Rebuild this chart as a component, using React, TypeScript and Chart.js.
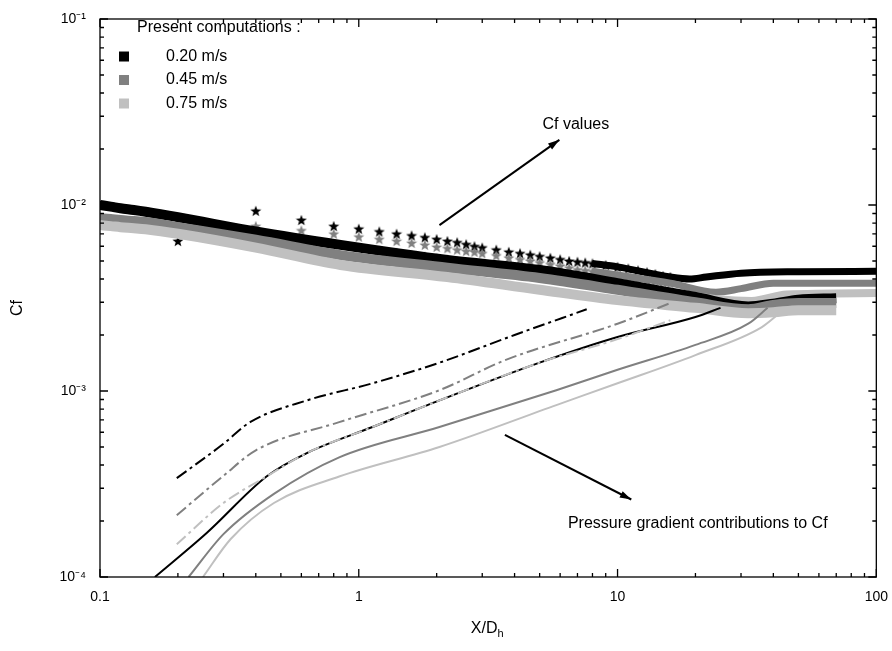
import React, { useEffect, useRef } from "react";
import { Chart, registerables } from "chart.js";
Chart.register(...registerables);

const BLACK = "#000000", GRAY = "#808080", LIGHT = "#c0c0c0", STARLOW = "#9a9a9a";

// Cf bands with square markers (to X/Dh = 70)
const sqX = [0.1, 0.11, 0.12, 0.135, 0.15, 0.2, 0.4, 0.85, 2.2, 5, 10, 20, 32, 40, 50, 70];
const sqBlack = [0.0100, 0.0098, 0.0096, 0.0094, 0.0092, 0.0086, 0.0072, 0.0061, 0.00506, 0.00447, 0.0038, 0.0032, 0.00285, 0.00295, 0.0031, 0.00315];
const sqGray = [0.0085, 0.0084, 0.0083, 0.0082, 0.0081, 0.0076, 0.0065, 0.00538, 0.0046, 0.00405, 0.0035, 0.0030, 0.00275, 0.0029, 0.00297, 0.00297];
const sqLight = [0.0078, 0.0077, 0.0076, 0.0075, 0.0074, 0.0070, 0.0059, 0.00476, 0.0041, 0.0035, 0.00308, 0.0028, 0.00262, 0.00265, 0.00272, 0.00272];

// Star markers
const stX = [0.2, 0.4, 0.6, 0.8, 1.0, 1.2, 1.4, 1.6, 1.8, 2.0, 2.2, 2.4, 2.6, 2.8, 3.0, 3.4, 3.8, 4.2, 4.6, 5, 5.5, 6, 6.5, 7, 7.5, 8, 9, 10, 11, 12, 13, 14, 15, 16];
const stBlack = [0.0064, 0.0093, 0.0083, 0.0077, 0.00745, 0.0072, 0.0070, 0.00685, 0.0067, 0.00655, 0.0064, 0.0063, 0.00615, 0.0060, 0.0059, 0.00575, 0.0056, 0.0055, 0.0054, 0.0053, 0.0052, 0.0051, 0.0050, 0.00495, 0.0049, 0.00485, 0.00475, 0.00465, 0.00455, 0.00445, 0.00435, 0.00425, 0.00415, 0.0041];
const stGray = [0.0085, 0.0077, 0.0073, 0.0070, 0.00675, 0.00655, 0.0064, 0.00625, 0.0061, 0.00595, 0.00585, 0.00575, 0.00565, 0.0056, 0.0055, 0.00535, 0.0052, 0.0051, 0.0050, 0.0049, 0.0048, 0.0047, 0.0046, 0.0045, 0.00445, 0.0044, 0.0043, 0.0042, 0.0041, 0.0040, 0.00395, 0.0039, 0.00385, 0.0038];
const stLow = [0.0079, 0.0067, 0.0064, 0.0061, 0.0059, 0.0057, 0.00555, 0.0054, 0.0053, 0.0052, 0.0051, 0.0050, 0.0049, 0.0048, 0.0047, 0.0046, 0.0045, 0.0044, 0.0043, 0.00425, 0.00415, 0.00405, 0.0040, 0.00395, 0.0039, 0.00385, 0.0038, 0.0037, 0.00365, 0.0036, 0.00355, 0.0035, 0.00345, 0.0034];

// Developed parts of the star curves (to X/Dh = 100)
const plBlackX = [8, 10, 16, 19, 22, 30, 50, 100];
const plBlack = [0.00485, 0.00465, 0.0041, 0.0040, 0.0041, 0.0043, 0.00438, 0.0044];
const plGrayX = [8, 10, 16, 24, 30, 40, 100];
const plGray = [0.0044, 0.0042, 0.0038, 0.0034, 0.00355, 0.0038, 0.0038];
const plLowX = [8, 10, 16, 25, 33, 45, 100];
const plLow = [0.00385, 0.0037, 0.0034, 0.0031, 0.00305, 0.0033, 0.00336];

// Pressure gradient contributions
const ddBlackX = [0.198, 0.3, 0.38, 0.63, 1.13, 2.05, 4, 7.6];
const ddBlack = [0.00034, 0.00052, 0.00068, 0.00089, 0.0011, 0.00142, 0.0020, 0.00275];
const ddGrayX = [0.198, 0.3, 0.4, 0.84, 2.05, 3.7, 10, 16];
const ddGray = [0.000215, 0.00035, 0.00048, 0.00068, 0.00101, 0.00147, 0.0023, 0.00297];
const ddLightX = [0.198, 0.3, 0.44, 0.63, 1.13, 2.05, 5, 10, 16];
const ddLight = [0.00015, 0.00025, 0.000347, 0.000464, 0.00064, 0.00089, 0.00142, 0.0019, 0.0024];
const slBlackX = [0.163, 0.259, 0.44, 0.63, 1.13, 2.05, 5, 10, 20, 25];
const slBlack = [0.0001, 0.000173, 0.000347, 0.000464, 0.00064, 0.00089, 0.00142, 0.00195, 0.0025, 0.0028];
const slGrayX = [0.22, 0.3, 0.47, 0.84, 2.05, 5.8, 10, 20, 32, 38];
const slGray = [0.0001, 0.00017, 0.00028, 0.00044, 0.00064, 0.00101, 0.0013, 0.00177, 0.0023, 0.0028];
const slLightX = [0.25, 0.32, 0.47, 0.84, 2.05, 5.8, 10, 20, 36, 42];
const slLight = [0.0001, 0.00016, 0.00025, 0.000347, 0.0005, 0.00084, 0.0011, 0.00156, 0.0022, 0.0026];

const xTicks = [0.1, 1, 10, 100];
const yTicks = [1e-4, 1e-3, 1e-2, 1e-1];
const yTickLabels = ["10⁻⁴", "10⁻³", "10⁻²", "10⁻¹"];
const legendTitle = "Present computations :";
const legendLabels = ["0.20 m/s", "0.45 m/s", "0.75 m/s"];
const legendColors = [BLACK, GRAY, LIGHT];

const pts = (xs: number[], ys: number[]) => xs.map((x, i) => ({ x, y: ys[i] }));

function starImg(color: string) {
  const c = document.createElement("canvas");
  c.width = 12; c.height = 12;
  const g = c.getContext("2d")!;
  g.fillStyle = color;
  g.beginPath();
  for (let i = 0; i < 10; i++) {
    const r = i % 2 === 0 ? 5.8 : 2.4;
    const a = -Math.PI / 2 + (i * Math.PI) / 5;
    const px = 6 + r * Math.cos(a), py = 6.5 + r * Math.sin(a);
    i === 0 ? g.moveTo(px, py) : g.lineTo(px, py);
  }
  g.closePath();
  g.fill();
  return c;
}

const FONT = "Liberation Sans, Arial, sans-serif";

const decor = {
  id: "decor",
  afterDraw(chart: any) {
    const { ctx, chartArea: a, scales } = chart;
    const xs = scales.x, ys = scales.y;
    ctx.save();
    ctx.strokeStyle = "#000";
    ctx.lineWidth = 1.3;
    ctx.strokeRect(a.left, a.top, a.right - a.left, a.bottom - a.top);
    ctx.beginPath();
    for (let d = -1; d < 2; d++) {
      for (let m = 1; m <= 10; m++) {
        const p = xs.getPixelForValue(m * Math.pow(10, d));
        const L = m === 1 || m === 10 ? 8 : 4;
        ctx.moveTo(p, a.bottom); ctx.lineTo(p, a.bottom - L);
        ctx.moveTo(p, a.top); ctx.lineTo(p, a.top + L);
      }
    }
    for (let d = -4; d < -1; d++) {
      for (let m = 1; m <= 10; m++) {
        const p = ys.getPixelForValue(m * Math.pow(10, d));
        const L = m === 1 || m === 10 ? 8 : 4;
        ctx.moveTo(a.left, p); ctx.lineTo(a.left + L, p);
        ctx.moveTo(a.right, p); ctx.lineTo(a.right - L, p);
      }
    }
    ctx.stroke();

    ctx.fillStyle = "#000";
    ctx.font = `16px ${FONT}`;
    ctx.textAlign = "center";
    ctx.textBaseline = "middle";
    const cx = (a.left + a.right) / 2;
    ctx.fillText("X/D", cx - 4, a.bottom + 52);
    const w = ctx.measureText("X/D").width;
    ctx.font = `11px ${FONT}`;
    ctx.textAlign = "left";
    ctx.fillText("h", cx - 4 + w / 2, a.bottom + 57);
    ctx.save();
    ctx.translate(a.left - 82, (a.top + a.bottom) / 2 + 10);
    ctx.rotate(-Math.PI / 2);
    ctx.font = `16px ${FONT}`;
    ctx.textAlign = "center";
    ctx.fillText("Cf", 0, 0);
    ctx.restore();

    ctx.font = `16px ${FONT}`;
    ctx.textAlign = "left";
    const lx = xs.getPixelForValue(0.139);
    const ly = ys.getPixelForValue(0.09);
    ctx.fillText(legendTitle, lx, ly);
    legendLabels.forEach((t, i) => {
      const yy = ly + 29 + i * 23.5;
      ctx.fillStyle = legendColors[i];
      ctx.fillRect(lx - 18, yy - 5, 10, 10);
      ctx.fillStyle = "#000";
      ctx.fillText(t, lx + 29, yy);
    });

    const arrow = (x1: number, y1: number, x2: number, y2: number) => {
      const p1x = xs.getPixelForValue(x1), p1y = ys.getPixelForValue(y1);
      const p2x = xs.getPixelForValue(x2), p2y = ys.getPixelForValue(y2);
      ctx.lineWidth = 2;
      ctx.beginPath(); ctx.moveTo(p1x, p1y); ctx.lineTo(p2x, p2y); ctx.stroke();
      const ang = Math.atan2(p2y - p1y, p2x - p1x);
      ctx.beginPath();
      ctx.moveTo(p2x, p2y);
      ctx.lineTo(p2x - 12 * Math.cos(ang - 0.3), p2y - 12 * Math.sin(ang - 0.3));
      ctx.lineTo(p2x - 12 * Math.cos(ang + 0.3), p2y - 12 * Math.sin(ang + 0.3));
      ctx.closePath(); ctx.fill();
    };
    arrow(2.05, 0.0078, 5.96, 0.0224);
    arrow(3.67, 0.000581, 11.3, 0.000261);
    ctx.textAlign = "center";
    ctx.fillText("Cf values", xs.getPixelForValue(6.9), ys.getPixelForValue(0.0269));
    ctx.textAlign = "left";
    ctx.fillText("Pressure gradient contributions to Cf", xs.getPixelForValue(6.43), ys.getPixelForValue(0.000194));
    ctx.restore();
  },
};

export default function App() {
  const ref = useRef<HTMLCanvasElement>(null);
  useEffect(() => {
    const sB = starImg(BLACK), sG = starImg(GRAY), sL = starImg(STARLOW);
    const band = (label: string, data: any, color: string, width: number, rect: boolean) => ({
      label, data, borderColor: color, backgroundColor: color, borderWidth: width,
      pointStyle: "rect", pointRadius: rect ? (c: any) => (c.dataIndex < 6 ? 5.5 : 0) : 0,
      pointBorderWidth: 0, cubicInterpolationMode: "monotone", fill: false,
    });
    const line = (label: string, data: any, color: string, dash: number[]) => ({
      label, data, borderColor: color, borderWidth: 2, borderDash: dash, pointRadius: 0,
      cubicInterpolationMode: "monotone", fill: false,
    });
    const stars = (label: string, data: any, img: any) => ({
      label, data, showLine: false, pointStyle: img, pointRadius: 6,
    });
    const chart = new Chart(ref.current!, {
      type: "line",
      data: {
        datasets: [
          line("ddL", pts(ddLightX, ddLight), LIGHT, [12, 4, 3, 4]),
          line("ddG", pts(ddGrayX, ddGray), GRAY, [12, 4, 3, 4]),
          line("slL", pts(slLightX, slLight), LIGHT, []),
          line("slG", pts(slGrayX, slGray), GRAY, []),
          line("slB", pts(slBlackX, slBlack), BLACK, []),
          line("ddB", pts(ddBlackX, ddBlack), BLACK, [12, 4, 3, 4]),
          band("sqL", pts(sqX, sqLight), LIGHT, 10, true),
          band("sqG", pts(sqX, sqGray), GRAY, 10, true),
          band("sqB", pts(sqX, sqBlack), BLACK, 10, true),
          band("plL", pts(plLowX, plLow), LIGHT, 8, false),
          band("plG", pts(plGrayX, plGray), GRAY, 7, false),
          band("plB", pts(plBlackX, plBlack), BLACK, 7, false),
          stars("stLow", pts(stX, stLow), sL),
          stars("stG", pts(stX, stGray), sG),
          stars("stB", pts(stX, stBlack), sB),
        ] as any,
      },
      options: {
        animation: false,
        responsive: false,
        layout: { padding: { left: 0, top: 19, right: 15, bottom: 0 } },
        plugins: { legend: { display: false }, tooltip: { enabled: false } },
        scales: {
          x: {
            type: "logarithmic", min: 0.1, max: 100,
            grid: { display: false }, border: { display: false },
            afterBuildTicks: (s: any) => { s.ticks = xTicks.map((v) => ({ value: v })); },
            afterFit: (s: any) => { s.height = 74; },
            ticks: { color: "#000", font: { size: 14, family: FONT }, padding: 4,
              callback: (v: any) => String(v), maxRotation: 0 },
          },
          y: {
            type: "logarithmic", min: 1e-4, max: 1e-1,
            grid: { display: false }, border: { display: false },
            afterBuildTicks: (s: any) => { s.ticks = yTicks.map((v) => ({ value: v })); },
            afterFit: (s: any) => { s.width = 100; },
            ticks: { color: "#000", font: { size: 14, family: FONT }, padding: 6,
              callback: (v: any) => { const i = yTicks.findIndex((t) => Math.abs(t - v) / t < 1e-6); return i >= 0 ? yTickLabels[i] : ""; } },
          },
        },
      },
      plugins: [decor],
    } as any);
    return () => chart.destroy();
  }, []);
  return (
    <div style={{ position: "absolute", left: 0, top: 0, width: 892, height: 651, background: "#fff" }}>
      <canvas ref={ref} width={892} height={651} />
    </div>
  );
}
